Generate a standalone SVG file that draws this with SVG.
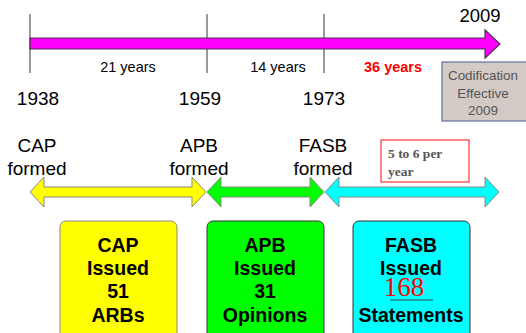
<svg xmlns="http://www.w3.org/2000/svg" width="526" height="333" viewBox="0 0 526 333">
<style>
.t{font-family:"Liberation Sans",Arial,sans-serif;fill:#000}
.y{font-size:19px;text-anchor:middle}
.s{font-size:14.5px;text-anchor:middle}
.b{font-size:19.5px;font-weight:bold;text-anchor:middle}
.c{font-size:13.5px;text-anchor:middle;fill:#555}
.n{font-family:"Liberation Serif","Times New Roman",serif;font-size:13.5px;font-weight:bold;fill:#555}
.tick{stroke:#555;stroke-width:1.2}
.da{stroke:#888;stroke-width:1}
</style>
<rect width="526" height="333" fill="#fff"/>
<g id="connectors">
<line class="tick" x1="30" y1="14" x2="30" y2="73"/>
<line class="tick" x1="207" y1="14" x2="207" y2="73"/>
<line class="tick" x1="324" y1="14" x2="324" y2="73"/>
<polygon points="30,38 485,38 485,30 500,44 485,58 485,49 30,49" fill="#ff00ff" stroke="#4a3050" stroke-width="1.2"/>
<polygon class="da" points="30,192 44,177 44,187 192,187 192,177 206,192 192,207 192,197 44,197 44,207" fill="#ffff00"/>
<polygon class="da" points="207,192 221,177 221,187 310,187 310,177 324,192 310,207 310,197 221,197 221,207" fill="#00ff00"/>
<polygon class="da" points="325,192 339,177 339,187 485,187 485,177 499,192 485,207 485,197 339,197 339,207" fill="#00ffff"/>
</g>
<g id="timeline-labels">
<text class="t" x="480" y="22" style="font-size:18.5px;text-anchor:middle">2009</text>
<text class="t s" x="128" y="72">21 years</text>
<text class="t s" x="278" y="72">14 years</text>
<text class="t s" x="393" y="72" style="fill:#ff0000;font-weight:bold">36 years</text>
<text class="t y" x="38" y="105">1938</text>
<text class="t y" x="200" y="105">1959</text>
<text class="t y" x="324" y="105">1973</text>
</g>
<g id="codification">
<rect x="442" y="62" width="90" height="59" fill="#d3c9c5" stroke="#5f73a0" stroke-width="1.2"/>
<text class="t c" x="483" y="80" textLength="70" lengthAdjust="spacingAndGlyphs">Codification</text>
<text class="t c" x="483" y="98">Effective</text>
<text class="t c" x="483" y="115">2009</text>
</g>
<g id="formed-labels">
<text class="t y" x="37" y="152">CAP</text>
<text class="t y" x="37" y="175">formed</text>
<text class="t y" x="199" y="152">APB</text>
<text class="t y" x="199" y="175">formed</text>
<text class="t y" x="323" y="152">FASB</text>
<text class="t y" x="323" y="175">formed</text>
</g>
<g id="rate-note">
<rect x="381" y="140" width="88" height="42" fill="#fff" stroke="#ff3333" stroke-width="1.2"/>
<text class="n" x="388" y="158">5 to 6 per</text>
<text class="n" x="388" y="176">year</text>
</g>
<g id="cap-box">
<rect x="60" y="221" width="117" height="125" rx="6" fill="#ffff00" stroke="#888" stroke-width="1"/>
<text class="t b" x="118" y="252">CAP</text>
<text class="t b" x="118" y="275">Issued</text>
<text class="t b" x="118" y="298">51</text>
<text class="t b" x="118" y="322">ARBs</text>
</g>
<g id="apb-box">
<rect x="207" y="221" width="117" height="125" rx="6" fill="#00ff00" stroke="#333" stroke-width="1"/>
<text class="t b" x="265" y="252">APB</text>
<text class="t b" x="265" y="275">Issued</text>
<text class="t b" x="265" y="298">31</text>
<text class="t b" x="265" y="322">Opinions</text>
</g>
<g id="fasb-box">
<rect x="353" y="221" width="117" height="125" rx="6" fill="#00ffff" stroke="#333" stroke-width="1"/>
<text class="t b" x="411" y="252">FASB</text>
<text class="t b" x="411" y="275">Issued</text>
<text x="404" y="296" style="font-family:'Liberation Serif','Times New Roman',serif;font-size:27px;fill:#ff0000;text-anchor:middle">168</text>
<line x1="390" y1="300" x2="433" y2="300" stroke="#444" stroke-width="1"/>
<text class="t b" x="411" y="322">Statements</text>
</g>
</svg>
